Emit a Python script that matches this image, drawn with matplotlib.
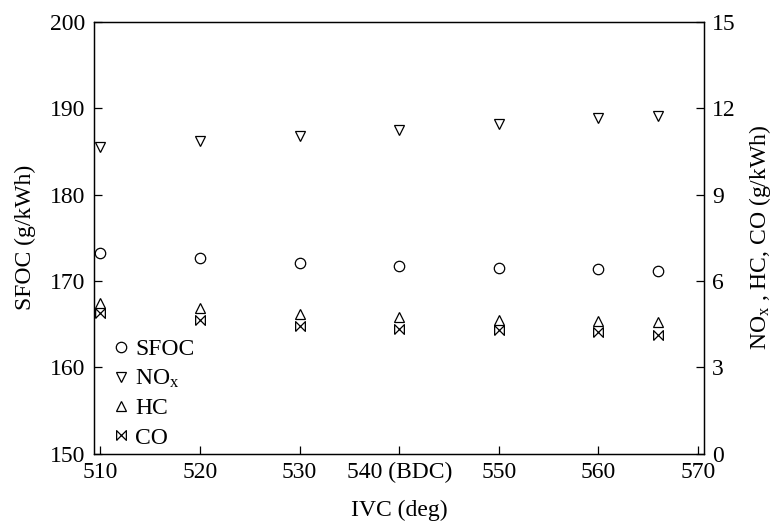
import matplotlib
matplotlib.use("Agg")
import matplotlib.pyplot as plt
from matplotlib.path import Path

plt.rcParams['font.family'] = ['Liberation Serif', 'DejaVu Serif']
plt.rcParams['mathtext.fontset'] = 'custom'
plt.rcParams['mathtext.rm'] = 'Liberation Serif'
plt.rcParams['mathtext.it'] = 'Liberation Serif'

ivc = [510, 520, 530, 540, 550, 560, 566]
sfoc = [173.2, 172.63, 172.12, 171.74, 171.47, 171.35, 171.2]
nox = [10.66, 10.85, 11.04, 11.25, 11.46, 11.67, 11.73]
hc = [5.24, 5.06, 4.85, 4.74, 4.65, 4.61, 4.59]
co = [4.89, 4.64, 4.44, 4.35, 4.29, 4.23, 4.14]

xticks = [510, 520, 530, 540, 550, 560, 570]
xticklabels = ['510', '520', '530', '540 (BDC)', '550', '560', '570']

bowtie = Path([(-1, -1), (-1, 1), (1, -1), (1, 1), (-1, -1)],
              [Path.MOVETO, Path.LINETO, Path.LINETO, Path.LINETO, Path.LINETO])

fig = plt.figure(figsize=(7.73, 5.29), dpi=100)
ax = fig.add_axes([94/773, 1-453.7/529, (704-94)/773, (453.7-22)/529])
ax2 = ax.twinx()

fs = 17
ms = 7.5
kw = dict(linestyle='none', markerfacecolor='none', markeredgecolor='black', markeredgewidth=0.9)
h1, = ax.plot(ivc, sfoc, marker='o', markersize=ms, label='SFOC', **kw)
h2, = ax2.plot(ivc, nox, marker='v', markersize=ms, label='NO$_{\\mathrm{x}}$', **kw)
h3, = ax2.plot(ivc, hc, marker='^', markersize=ms, label='HC', **kw)
h4, = ax2.plot(ivc, co, marker=bowtie, markersize=7, label='CO', **kw)

ax.set_xlim(509.35, 570.6)
ax.set_ylim(150, 200)
ax2.set_ylim(0, 15)
ax.set_xticks(xticks)
ax.set_xticklabels(xticklabels)
ax.set_yticks([150, 160, 170, 180, 190, 200])
ax2.set_yticks([0, 3, 6, 9, 12, 15])

for a in (ax, ax2):
    a.tick_params(direction='in', length=5.5, width=0.9, labelsize=fs, pad=6)
    for s in a.spines.values():
        s.set_linewidth(0.9)
ax.tick_params(axis='x', top=False)

ax.set_xlabel('IVC (deg)', fontsize=fs, labelpad=12)
ax.set_ylabel('SFOC (g/kWh)', fontsize=fs, labelpad=10)
ax2.set_ylabel('NO$_{\\mathrm{x}}$ , HC, CO (g/kWh)', fontsize=fs, labelpad=8)

leg = ax.legend(handles=[h1, h2, h3, h4], loc='lower left', bbox_to_anchor=(0.025, 0.012),
                frameon=False, fontsize=fs, handlelength=1.0, handletextpad=0.1,
                labelspacing=0.32, borderaxespad=0, borderpad=0)

fig.savefig('out.png', dpi=100)
